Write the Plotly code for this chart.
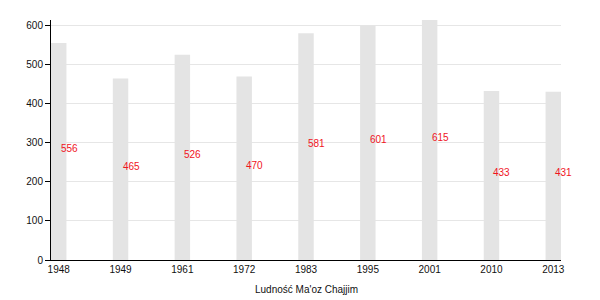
import plotly.graph_objects as go

years = ["1948", "1949", "1961", "1972", "1983", "1995", "2001", "2010", "2013"]
population = [556, 465, 526, 470, 581, 601, 615, 433, 431]
title = "Ludność Ma'oz Chajjim"

idx = list(range(len(years)))

fig = go.Figure()
fig.add_trace(go.Bar(
    x=idx, y=population, width=0.25,
    marker=dict(color="#e4e4e4", line=dict(width=0)),
    hoverinfo="skip",
))

for i, v in zip(idx, population):
    fig.add_annotation(x=i, y=v / 2, text=str(v), showarrow=False,
                       xanchor="left", yanchor="middle", yshift=3,
                       font=dict(color="#f0141e", size=10, family="Liberation Sans, Arial"))

# x-axis title placed below tick labels
fig.add_annotation(xref="paper", yref="paper", x=0.5, y=-29 / 240, text=title,
                   showarrow=False, xanchor="center", yanchor="middle",
                   font=dict(size=10, family="Liberation Sans, Arial", color="#111111"))

fig.update_layout(
    width=600, height=300,
    margin=dict(l=51, r=39, t=20, b=40),
    paper_bgcolor="white", plot_bgcolor="white",
    showlegend=False,
    font=dict(family="Liberation Sans, Arial", size=10, color="#111111"),
    xaxis=dict(
        range=[-0.125, 8.125], tickmode="array", tickvals=idx, ticktext=years,
        showgrid=False, showline=True, linecolor="black", linewidth=1,
        ticks="", zeroline=False, automargin=False,
    ),
    yaxis=dict(
        range=[0, 615], tickvals=[0, 100, 200, 300, 400, 500, 600],
        showgrid=True, gridcolor="#e6e6e6", gridwidth=1,
        showline=True, linecolor="black", linewidth=1,
        ticks="outside", ticklen=5, tickcolor="black", zeroline=False,
        automargin=False,
    ),
)

fig.write_html("out.html")
